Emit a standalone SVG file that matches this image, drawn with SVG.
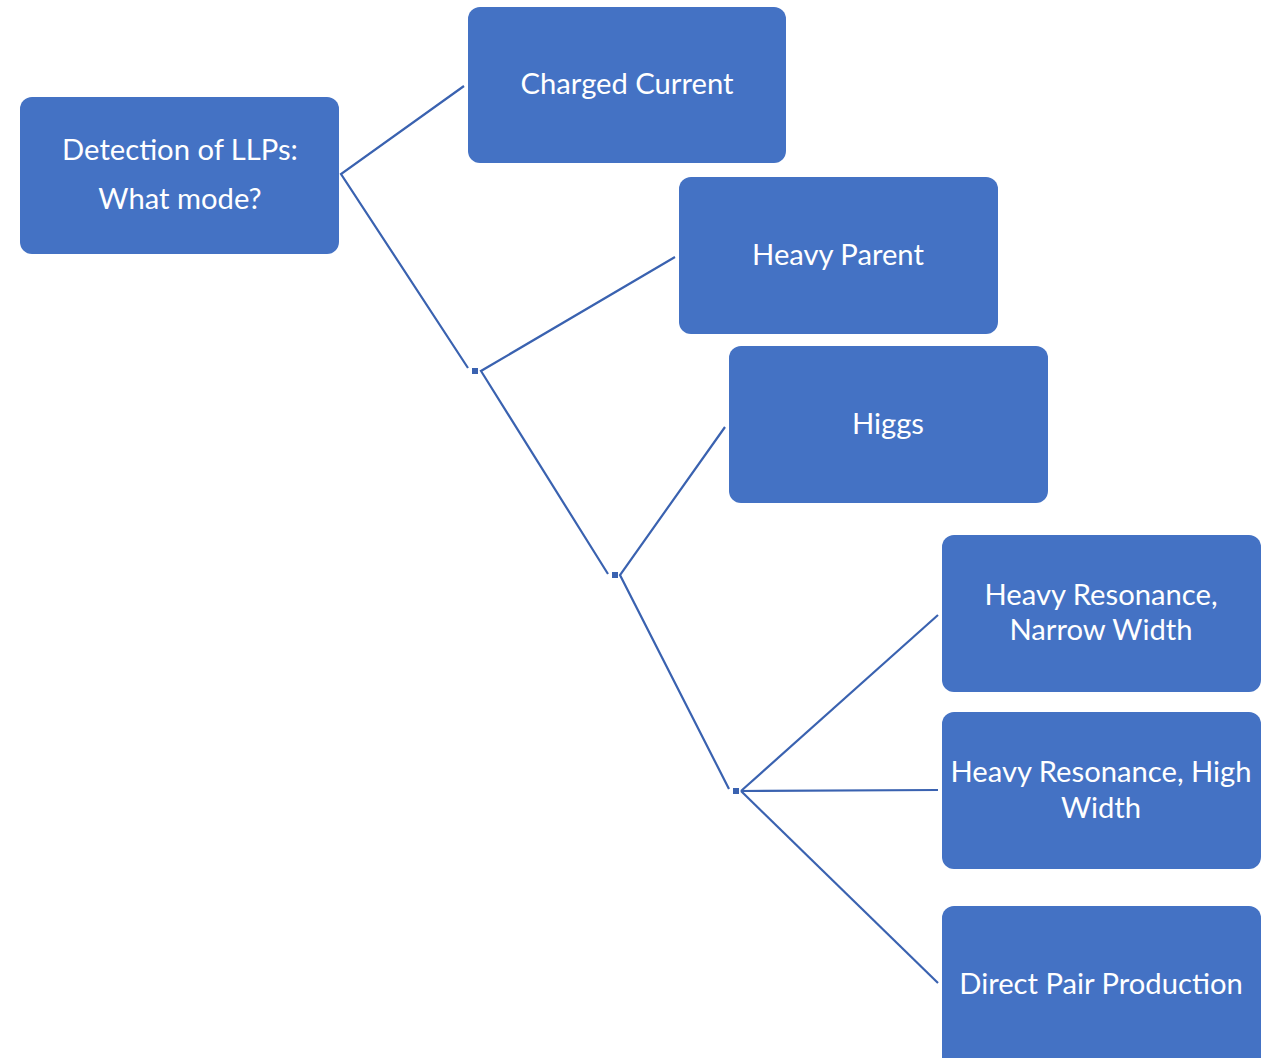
<svg xmlns="http://www.w3.org/2000/svg" width="1266" height="1058" viewBox="0 0 1266 1058">
<style>
.box{fill:#4472C4;}
.t{fill:#ffffff;font-family:Lato,"Open Sans","Liberation Sans",sans-serif;font-size:29.2px;text-anchor:middle;}
.c{stroke:#3A62B0;stroke-width:2.2;fill:none;}
.j{fill:#3A62B0;}
</style>
<rect width="1266" height="1058" fill="#ffffff"/>
<g id="connectors">
<polyline class="c" points="464,86 341,174 468,368"/>
<polyline class="c" points="675,257 481,371 608,574"/>
<polyline class="c" points="725,427 620,575 729,789"/>
<line class="c" x1="741" y1="791" x2="938" y2="615"/>
<line class="c" x1="741" y1="791" x2="938" y2="790"/>
<line class="c" x1="741" y1="791" x2="938" y2="983"/>
<rect class="j" x="472" y="368" width="6" height="6"/>
<rect class="j" x="612" y="572" width="6" height="6"/>
<rect class="j" x="733" y="788" width="6" height="6"/>
</g>
<g id="root">
<rect class="box" x="20" y="97" width="319" height="157" rx="12"/>
<text class="t" x="180" y="160">Detection of LLPs:</text>
<text class="t" x="180" y="209">What mode?</text>
</g>
<g id="charged-current">
<rect class="box" x="468" y="7" width="318" height="156" rx="12"/>
<text class="t" x="627" y="94">Charged Current</text>
</g>
<g id="heavy-parent">
<rect class="box" x="679" y="177" width="319" height="157" rx="12"/>
<text class="t" x="838" y="265">Heavy Parent</text>
</g>
<g id="higgs">
<rect class="box" x="729" y="346" width="319" height="157" rx="12"/>
<text class="t" x="888" y="434">Higgs</text>
</g>
<g id="hr-narrow">
<rect class="box" x="942" y="535" width="319" height="157" rx="12"/>
<text class="t" x="1101" y="605">Heavy Resonance,</text>
<text class="t" x="1101" y="640">Narrow Width</text>
</g>
<g id="hr-high">
<rect class="box" x="942" y="712" width="319" height="157" rx="12"/>
<text class="t" x="1101" y="782">Heavy Resonance, High</text>
<text class="t" x="1101" y="818">Width</text>
</g>
<g id="direct-pair">
<rect class="box" x="942" y="906" width="319" height="164" rx="12"/>
<text class="t" x="1101" y="994">Direct Pair Production</text>
</g>
</svg>
